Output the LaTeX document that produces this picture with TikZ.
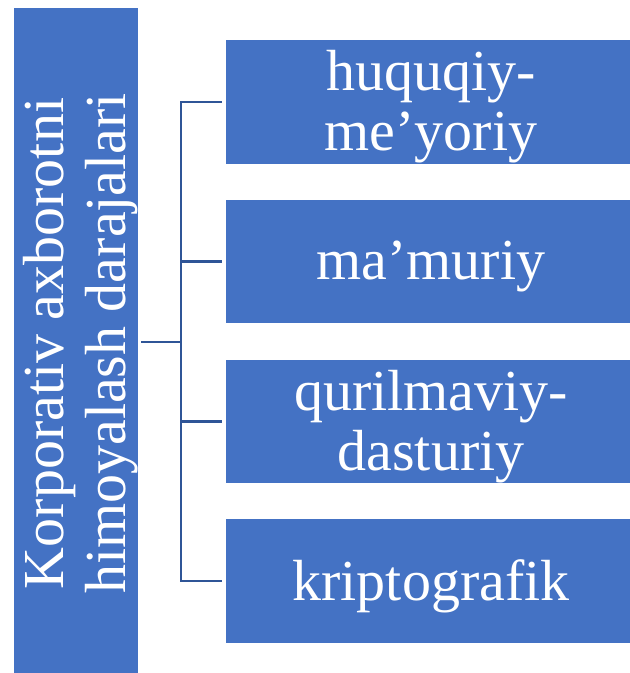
\documentclass[tikz,border=0pt]{standalone}
\usepackage{fontspec}
\setmainfont{Liberation Serif}
\definecolor{boxblue}{HTML}{4472C4}
\definecolor{linkblue}{HTML}{2F5597}
\begin{document}
\begin{tikzpicture}[x=1pt,y=-1pt,
  boxnode/.style={rectangle,fill=boxblue,draw=white,line width=0.8pt,inner sep=0pt,minimum width=405pt,minimum height=124.5pt},
  sidebox/.style={rectangle,fill=boxblue,draw=white,line width=0.8pt,inner sep=0pt,minimum width=125pt,minimum height=666pt},
  lbl/.style={text=white,font=\fontsize{58}{60}\selectfont,align=center,inner sep=0pt},
  conn/.style={draw=linkblue,line width=2.2pt}]
\useasboundingbox (0,0) rectangle (630,673);
\node[sidebox] (L) at (75.5,340) {};
\node[lbl,rotate=90,font=\fontsize{58}{62}\selectfont] (Lt) at (80.5,343.5) {Korporativ axborotni\\himoyalash darajalari};
\node[boxnode] (b1) at (427.5,102) {};
\node[boxnode] (b2) at (427.5,261.5) {};
\node[boxnode] (b3) at (427.5,421.5) {};
\node[boxnode] (b4) at (427.5,581) {};
\node[lbl] (t1) at (431,107) {huquqiy-\\me’yoriy};
\node[lbl] (t2) at (431,266.5) {ma’muriy};
\node[lbl] (t3) at (431,426.5) {qurilmaviy-\\dasturiy};
\node[lbl] (t4) at (431,586) {kriptografik};
\coordinate (J) at (181,342);
\draw[conn,shorten <=3pt] (L.east |- J) -- (J);
\draw[conn,line cap=rect] (J |- b1.west) -- (J |- b4.west);
\foreach \b in {b1,b2,b3,b4} \draw[conn,shorten >=3pt] (J |- \b.west) -- (\b.west);
\end{tikzpicture}
\end{document}
